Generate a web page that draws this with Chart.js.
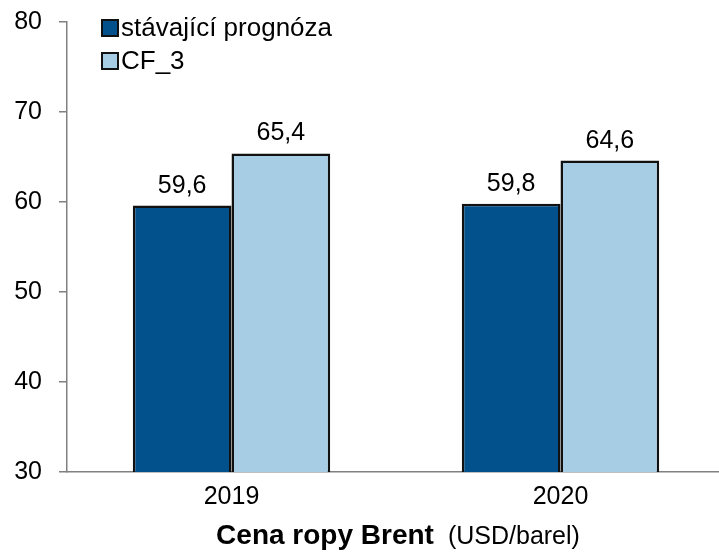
<!DOCTYPE html>
<html>
<head>
<meta charset="utf-8">
<script src="https://cdn.jsdelivr.net/npm/chart.js@4"></script>
<style>
  html, body { margin: 0; padding: 0; background: #fff; overflow: hidden; }
  canvas { display: block; }
</style>
</head>
<body>
<canvas id="c" width="725" height="552"></canvas>
<script>
const years = ['2019', '2020'];
const seriesNames = ['stávající prognóza', 'CF_3'];
const currentForecast = [59.6, 59.8];
const scenarioCF3 = [65.4, 64.6];
const yTicks = [30, 40, 50, 60, 70, 80];

const FONT = '"Liberation Sans", Arial, sans-serif';
const SIZE = 25;
const DARK = '#02508C';
const LIGHT = '#A6CDE4';
const AXIS = '#808080';

const fmt = v => v.toFixed(1).replace('.', ',');

// value labels above each bar
const valueLabels = {
  id: 'valueLabels',
  afterDatasetsDraw(chart) {
    const ctx = chart.ctx;
    ctx.save();
    ctx.font = SIZE + 'px ' + FONT;
    ctx.fillStyle = '#000';
    ctx.textAlign = 'center';
    ctx.textBaseline = 'alphabetic';
    chart.data.datasets.forEach((ds, i) => {
      chart.getDatasetMeta(i).data.forEach((bar, j) => {
        ctx.fillText(fmt(ds.data[j]), bar.x, bar.y - 13);
      });
    });
    ctx.restore();
  }
};

// legend in the upper left corner of the plot
const boxLegend = {
  id: 'boxLegend',
  afterDraw(chart) {
    const ctx = chart.ctx;
    ctx.save();
    ctx.font = '26px ' + FONT;
    ctx.textBaseline = 'middle';
    ctx.textAlign = 'left';
    chart.data.datasets.forEach((ds, i) => {
      const cy = 28 + i * 33;
      ctx.fillStyle = ds.backgroundColor;
      ctx.fillRect(102, cy - 8, 16, 16);
      ctx.strokeStyle = '#111';
      ctx.lineWidth = 2;
      ctx.strokeRect(102, cy - 8, 16, 16);
      ctx.fillStyle = '#000';
      ctx.fillText(ds.label, 121, cy + 1);
    });
    ctx.restore();
  }
};

// axis title: bold name followed by the unit
const axisTitle = {
  id: 'axisTitle',
  afterDraw(chart) {
    const ctx = chart.ctx;
    ctx.save();
    const bold = 'bold 28px ' + FONT;
    const normal = SIZE + 'px ' + FONT;
    const a = 'Cena ropy Brent', b = '(USD/barel)';
    ctx.font = bold; const wa = ctx.measureText(a).width;
    ctx.font = normal; const wb = ctx.measureText(b).width;
    const gap = 14;
    const total = wa + gap + wb;
    const x0 = 398 - total / 2;
    const y = 544;
    ctx.fillStyle = '#000';
    ctx.textBaseline = 'alphabetic';
    ctx.textAlign = 'left';
    ctx.font = bold; ctx.fillText(a, x0, y);
    ctx.font = normal; ctx.fillText(b, x0 + wa + gap, y);
    ctx.restore();
  }
};

new Chart(document.getElementById('c'), {
  type: 'bar',
  data: {
    labels: years,
    datasets: [
      { label: seriesNames[0], data: currentForecast, backgroundColor: DARK,
        borderColor: '#111', borderWidth: 2.5, borderSkipped: false },
      { label: seriesNames[1], data: scenarioCF3, backgroundColor: LIGHT,
        borderColor: '#111', borderWidth: 2.5, borderSkipped: false }
    ]
  },
  options: {
    responsive: false,
    animation: false,
    devicePixelRatio: 1,
    layout: { padding: { top: 22, right: 0, bottom: 0, left: 0 } },
    datasets: { bar: { categoryPercentage: 0.6, barPercentage: 1.0 } },
    plugins: { legend: { display: false }, tooltip: { enabled: false } },
    scales: {
      x: {
        grid: { display: false },
        border: { display: true, color: AXIS, width: 1.5 },
        ticks: { color: '#000', font: { family: FONT, size: SIZE }, padding: 2, maxRotation: 0 },
        afterFit(s) { s.height = 80; s.paddingLeft = 0; s.paddingRight = 0; }
      },
      y: {
        min: 30, max: 80,
        afterBuildTicks(s) { s.ticks = yTicks.map(v => ({ value: v })); },
        grid: { drawOnChartArea: false, drawTicks: true, tickLength: 8, color: AXIS, lineWidth: 1.5 },
        border: { display: true, color: AXIS, width: 1.5 },
        ticks: { color: '#000', font: { family: FONT, size: SIZE }, padding: 17 },
        afterFit(s) { s.width = 67; s.paddingTop = 0; s.paddingBottom = 0; }
      }
    }
  },
  plugins: [valueLabels, boxLegend, axisTitle]
});
</script>
</body>
</html>
